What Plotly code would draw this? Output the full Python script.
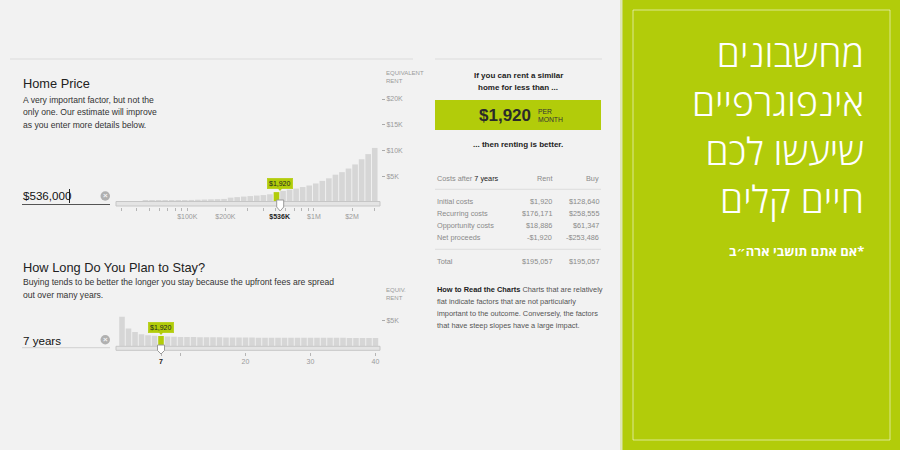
import plotly.graph_objects as go

W, H = 900, 450

# ---------------- data ----------------
home_values_k = [0.12, 0.14, 0.16, 0.18, 0.20, 0.22, 0.24, 0.27, 0.30, 0.33,
                 0.36, 0.40, 0.44, 0.48, 0.52, 0.56, 0.60, 0.85, 0.95, 1.05,
                 1.15, 1.25, 1.35, 1.50, 1.92, 2.15, 2.40, 2.60, 2.90, 3.20,
                 3.60, 4.10, 4.60, 5.30, 5.80, 6.50, 7.30, 8.30, 9.30, 10.50]
home_selected_index = 24
home_tick_prices = [30000, 40000, 50000, 60000, 70000, 80000, 90000, 100000,
                    200000, 300000, 400000, 500000, 536000, 600000, 700000,
                    800000, 900000, 1000000, 2000000, 3000000]
home_tick_labels = ["", "", "", "", "", "", "", "$100K", "$200K", "", "", "",
                    "<span style='color:#222'><b>$536K</b></span>", "", "", "", "",
                    "$1M", "$2M", ""]

years = list(range(1, 41))
years_values_k = [5.70, 3.40, 2.70, 2.30, 2.10, 2.00, 1.92, 1.85, 1.80, 1.77,
                  1.75, 1.73, 1.72, 1.70, 1.69, 1.68, 1.67, 1.66, 1.65, 1.64,
                  1.63, 1.62, 1.62, 1.61, 1.61, 1.60, 1.60, 1.60, 1.59, 1.59,
                  1.59, 1.58, 1.58, 1.58, 1.58, 1.57, 1.57, 1.57, 1.57, 1.57]
selected_year = 7
year_tick_vals = [7, 10, 20, 30, 40]
year_tick_labels = ["<span style='color:#222'><b>7</b></span>", "", "20", "30", "40"]

rent_tick_vals_home = [5, 10, 15, 20]
rent_tick_labels_home = ["$5K", "$10K", "$15K", "$20K"]
rent_tick_vals_years = [5]
rent_tick_labels_years = ["$5K"]

cost_rows = ["Initial costs", "Recurring costs", "Opportunity costs", "Net proceeds"]
rent_costs = ["$1,920", "$176,171", "$18,886", "-$1,920"]
buy_costs = ["$128,640", "$258,555", "$61,347", "-$253,486"]
total_rent = "$195,057"
total_buy = "$195,057"
monthly_rent = "$1,920"

headline_lines = ["מחשבונים", "אינפוגרפיים", "שיעשו לכם", "חיים קלים"]
headline_note = "אם אתם תושבי ארה״ב*"

# ---------------- style ----------------
BG = "#f2f2f2"
BAR = "#d6d6d6"
GREEN = "#b2cc0a"
FONT = "Liberation Sans, Arial, sans-serif"


def px(x):
    return x / W


def py(y):
    return 1 - y / H


fig = go.Figure()

home_colors = [GREEN if i == home_selected_index else BAR for i in range(len(home_values_k))]
fig.add_trace(go.Bar(x=list(range(len(home_values_k))), y=home_values_k,
                     marker=dict(color=home_colors, line=dict(width=0)),
                     xaxis="x", yaxis="y", hoverinfo="skip", showlegend=False))
# helper trace for the log price axis
fig.add_trace(go.Scatter(x=[home_tick_prices[7]], y=[0], mode="markers",
                         marker=dict(opacity=0), xaxis="x3", yaxis="y",
                         hoverinfo="skip", showlegend=False))

year_colors = [GREEN if yv == selected_year else BAR for yv in years]
fig.add_trace(go.Bar(x=years, y=years_values_k,
                     marker=dict(color=year_colors, line=dict(width=0)),
                     xaxis="x2", yaxis="y2", hoverinfo="skip", showlegend=False))

home_xdom = [px(116), px(378)]
years_xdom = [px(118.75), px(378.75)]

fig.update_layout(
    width=W, height=H, margin=dict(l=0, r=0, t=0, b=0),
    paper_bgcolor=BG, plot_bgcolor="rgba(0,0,0,0)",
    bargap=0.14, font=dict(family=FONT),
    xaxis=dict(domain=home_xdom, range=[-0.5, len(home_values_k) - 0.5],
               visible=False, fixedrange=True),
    xaxis3=dict(overlaying="x", type="log", range=[4.437, 6.506],
                anchor="free", position=py(207), side="bottom",
                tickvals=home_tick_prices, ticktext=home_tick_labels,
                ticks="outside", ticklen=3, tickcolor="#b5b5b5", tickwidth=1,
                tickfont=dict(size=7, color="#9a9a9a", family=FONT),
                showgrid=False, zeroline=False, showline=False),
    yaxis=dict(domain=[py(202), py(94)], range=[0, 108 / 5.15],
               anchor="free", position=px(381), side="right",
               tickvals=rent_tick_vals_home, ticktext=rent_tick_labels_home,
               ticks="outside", ticklen=3, tickcolor="#aaaaaa",
               tickfont=dict(size=7, color="#9a9a9a", family=FONT),
               showgrid=False, zeroline=False, showline=False),
    xaxis2=dict(domain=years_xdom, range=[0.5, 40.5],
                anchor="free", position=py(352), side="bottom",
                tickvals=year_tick_vals, ticktext=year_tick_labels,
                ticks="outside", ticklen=3, tickcolor="#b5b5b5",
                tickfont=dict(size=7, color="#9a9a9a", family=FONT),
                showgrid=False, zeroline=False, showline=False),
    yaxis2=dict(domain=[py(346), py(310)], range=[0, 36 / 5.15],
                anchor="free", position=px(381), side="right",
                tickvals=rent_tick_vals_years, ticktext=rent_tick_labels_years,
                ticks="outside", ticklen=3, tickcolor="#aaaaaa",
                tickfont=dict(size=7, color="#9a9a9a", family=FONT),
                showgrid=False, zeroline=False, showline=False),
)

shapes = []
ann = []


def rect(x0, y0, x1, y1, fill, line=None, lw=0, layer="above"):
    shapes.append(dict(type="rect", xref="paper", yref="paper",
                       x0=px(x0), x1=px(x1), y0=py(y1), y1=py(y0),
                       fillcolor=fill, line=dict(color=line or fill, width=lw), layer=layer))


def hline(x0, x1, y, color, w=1):
    shapes.append(dict(type="line", xref="paper", yref="paper",
                       x0=px(x0), x1=px(x1), y0=py(y), y1=py(y),
                       line=dict(color=color, width=w)))


def path(points, fill, line, lw=1):
    d = "M " + " L ".join(f"{px(a):.5f},{py(b):.5f}" for a, b in points) + " Z"
    shapes.append(dict(type="path", xref="paper", yref="paper", path=d,
                       fillcolor=fill, line=dict(color=line, width=lw), layer="above"))


def text(x, y, s, size=8, color="#333", xanchor="left", family=FONT, weight=None, align="left"):
    f = dict(size=size, color=color, family=family)
    if weight:
        f["weight"] = weight
    ann.append(dict(x=px(x), y=py(y), xref="paper", yref="paper", text=s,
                    showarrow=False, xanchor=xanchor, yanchor="middle", font=f, align=align))


# top rules
hline(10, 413, 59, "#dcdcdc")
hline(435, 602, 59, "#dcdcdc")

# ---- Home price section ----
text(21, 84, "Home Price", size=12.8, color="#222")
for i, line in enumerate(["A very important factor, but not the",
                          "only one. Our estimate will improve",
                          "as you enter more details below."]):
    text(21, 100 + i * 12.3, line, size=8.6, color="#333")
text(384, 73, "EQUIVALENT", size=6, color="#9a9a9a")
text(384, 81, "RENT", size=6, color="#9a9a9a")

text(21, 196, "$536,000", size=11.6, color="#111")
shapes.append(dict(type="line", xref="paper", yref="paper", x0=px(69.5), x1=px(69.5),
                   y0=py(189), y1=py(203), line=dict(color="#222", width=1)))
hline(22, 110, 204.5, "#555", 1)
shapes.append(dict(type="circle", xref="paper", yref="paper",
                   x0=px(100.5), x1=px(110), y0=py(200.7), y1=py(191.3),
                   fillcolor="#b0b0b0", line=dict(width=0)))
text(105.3, 196, "<b>×</b>", size=8, color="#f2f2f2", xanchor="center")

# slider track
rect(116, 201.5, 380, 206, "#e4e4e4", "#c6c6c6", 1)
# handle
path([(276.7, 200), (283.7, 200), (283.7, 207), (280.2, 211), (276.7, 207)], "#ffffff", "#9a9a9a", 1)
# tooltip
path([(277.5, 188), (282.5, 188), (280, 191)], GREEN, GREEN, 0)
ann.append(dict(x=px(280), y=py(183.8), xref="paper", yref="paper", text=monthly_rent,
                showarrow=False, xanchor="center", yanchor="middle",
                font=dict(size=7, color="#222", family=FONT),
                bgcolor=GREEN, borderpad=1.5, bordercolor=GREEN, borderwidth=0.5))

# ---- Years section ----
text(21, 267, "How Long Do You Plan to Stay?", size=12.8, color="#222")
text(21, 282, "Buying tends to be better the longer you stay because the upfront fees are spread",
     size=8.6, color="#333")
text(21, 294.5, "out over many years.", size=8.6, color="#333")
text(384, 290, "EQUIV.", size=6, color="#9a9a9a")
text(384, 298, "RENT", size=6, color="#9a9a9a")

text(21, 340, "7 years", size=11.6, color="#111")
hline(22, 110, 347.7, "#d0d0d0", 1)
shapes.append(dict(type="circle", xref="paper", yref="paper",
                   x0=px(100.5), x1=px(110), y0=py(344.5), y1=py(335),
                   fillcolor="#b0b0b0", line=dict(width=0)))
text(105.3, 339.8, "<b>×</b>", size=8, color="#f2f2f2", xanchor="center")

rect(116, 346.3, 380, 350.3, "#e4e4e4", "#c6c6c6", 1)
path([(157.5, 345), (164.5, 345), (164.5, 350.5), (161, 354), (157.5, 350.5)], "#ffffff", "#9a9a9a", 1)
path([(158.5, 332), (163.5, 332), (161, 335)], GREEN, GREEN, 0)
ann.append(dict(x=px(160.5), y=py(327.5), xref="paper", yref="paper", text=monthly_rent,
                showarrow=False, xanchor="center", yanchor="middle",
                font=dict(size=7, color="#222", family=FONT),
                bgcolor=GREEN, borderpad=1.5, bordercolor=GREEN, borderwidth=0.5))

# ---- Right info column ----
text(518, 75.5, "<b>If you can rent a similar</b>", size=8, color="#222", xanchor="center")
text(518, 87.5, "<b>home for less than ...</b>", size=8, color="#222", xanchor="center")
rect(435, 100, 601, 130, GREEN)
text(533, 115.5, f"<b>{monthly_rent}</b>", size=17, color="#2a2a2a", xanchor="right")
text(536, 111.5, "PER", size=6.8, color="#333")
text(536, 119.3, "MONTH", size=6.8, color="#333")
text(518, 144.3, "<b>... then renting is better.</b>", size=8, color="#222", xanchor="center")

text(435, 178, "Costs after <span style='color:#222'>7 years</span>", size=7.3, color="#8a8a8a")
text(554, 178, "Rent", size=7.3, color="#8a8a8a", xanchor="right")
text(601, 178, "Buy", size=7.3, color="#8a8a8a", xanchor="right")
hline(435, 601, 189.3, "#dddddd")
for i, (lab, r, b) in enumerate(zip(cost_rows, rent_costs, buy_costs)):
    yy = 201.7 + i * 12.1
    text(435, yy, lab, size=7.3, color="#8a8a8a")
    text(554, yy, r, size=7.3, color="#8a8a8a", xanchor="right")
    text(601, yy, b, size=7.3, color="#8a8a8a", xanchor="right")
hline(435, 601, 249.3, "#dddddd")
text(435, 261.7, "Total", size=7.3, color="#8a8a8a")
text(554, 261.7, total_rent, size=7.3, color="#8a8a8a", xanchor="right")
text(601, 261.7, total_buy, size=7.3, color="#8a8a8a", xanchor="right")

read_lines = ["<b><span style='color:#222'>How to Read the Charts</span></b> Charts that are relatively",
              "flat indicate factors that are not particularly",
              "important to the outcome. Conversely, the factors",
              "that have steep slopes have a large impact."]
for i, l in enumerate(read_lines):
    text(435, 289 + i * 12.1, l, size=7.4, color="#555")

# ---- Green banner ----
rect(620, 0, 623, 450, "#dfe6b8", layer="below")
rect(622.5, 0, 900, 450, GREEN, layer="below")
shapes.append(dict(type="rect", xref="paper", yref="paper",
                   x0=px(633), x1=px(890), y0=py(440), y1=py(10),
                   fillcolor="rgba(0,0,0,0)", line=dict(color="rgba(255,255,255,0.55)", width=1)))
HEB = "Open Sans, DejaVu Sans, sans-serif"
text(866, 125, "<br>".join(headline_lines), size=37.5, color="#ffffff",
     xanchor="right", family=HEB, weight=300, align="right")
text(866, 251, f"<b>{headline_note}</b>", size=13, color="#ffffff", xanchor="right", family=HEB)

fig.update_layout(shapes=shapes, annotations=ann)
fig.write_html("out.html", config={"displayModeBar": False},
               post_script="document.body.style.margin='0';document.body.style.overflow='hidden';")
